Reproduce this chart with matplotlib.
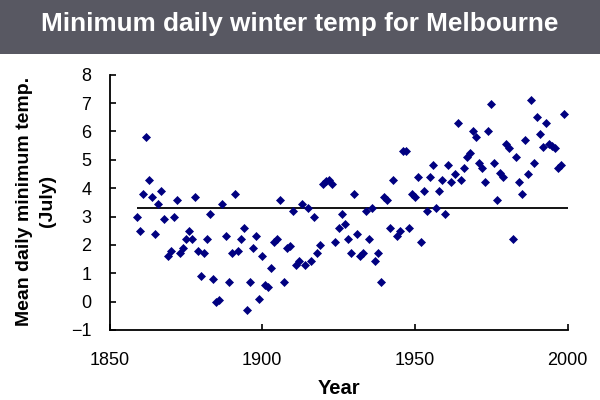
import matplotlib
matplotlib.use("Agg")
import matplotlib.pyplot as plt
from matplotlib.patches import Rectangle

# ---- data ----
first_year = 1859
temps = [
    3.0, 2.5, 3.8, 5.8, 4.3, 3.7, 2.4, 3.45, 3.9, 2.9,        # 1859-1868
    1.6, 1.8, 3.0, 3.6, 1.7, 1.9, 2.2, 2.5, 2.2, 3.7,          # 1869-1878
    1.8, 0.9, 1.7, 2.2, 3.1, 0.8, 0.0, 0.05, 3.45, 2.3,        # 1879-1888
    0.7, 1.7, 3.8, 1.8, 2.2, 2.6, -0.3, 0.7, 1.9, 2.3,         # 1889-1898
    0.1, 1.6, 0.6, 0.5, 1.2, 2.1, 2.2, 3.6, 0.7, 1.9,          # 1899-1908
    1.95, 3.2, 1.3, 1.45, 3.45, 1.3, 3.3, 1.45, 3.0, 1.7,      # 1909-1918
    2.0, 4.15, 4.25, 4.3, 4.15, 2.1, 2.6, 3.1, 2.75, 2.2,      # 1919-1928
    1.7, 3.8, 2.4, 1.6, 1.7, 3.2, 2.2, 3.3, 1.45, 1.7,         # 1929-1938
    0.7, 3.7, 3.6, 2.6, 4.3, 2.3, 2.5, 5.3, 5.3, 2.6,          # 1939-1948
    3.8, 3.7, 4.4, 2.1, 3.9, 3.2, 4.4, 4.8, 3.3, 3.9,          # 1949-1958
    4.3, 3.1, 4.8, 4.2, 4.5, 6.3, 4.3, 4.7, 5.1, 5.25,         # 1959-1968
    6.0, 5.8, 4.9, 4.7, 4.2, 6.0, 6.95, 4.9, 3.6, 4.55,        # 1969-1978
    4.4, 5.55, 5.4, 2.2, 5.1, 4.2, 3.8, 5.7, 4.5, 7.1,         # 1979-1988
    4.9, 6.5, 5.9, 5.45, 6.3, 5.55, 5.5, 5.4, 4.7, 4.8,        # 1989-1998
    6.6,                                                       # 1999
]
years = list(range(first_year, first_year + len(temps)))
mean_temp = 3.29
mean_line_end = 2000

x_ticks = [1850, 1900, 1950, 2000]
y_ticks = list(range(-1, 9))

title = "Minimum daily winter temp for Melbourne"
x_label = "Year"
y_label = "Mean daily minimum temp.\n(July)"

# ---- figure ----
plt.rcParams['font.family'] = ['Liberation Sans', 'DejaVu Sans']
fig = plt.figure(figsize=(6, 4), dpi=100)
fig.patch.set_facecolor('white')

# title banner
banner_h = 54 / 400
fig.patches.append(Rectangle((0, 1 - banner_h), 1, banner_h, transform=fig.transFigure,
                             facecolor='#585862', edgecolor='none', zorder=0))
fig.text(0.5, 1 - 24 / 400, title, color='white', fontsize=18.8, fontweight='bold',
         ha='center', va='center')

ax = fig.add_axes([109.5 / 600, 1 - 330 / 400, (567.5 - 109.5) / 600, (330 - 74.7) / 400])
ax.plot(years, temps, linestyle='none', marker='D', markersize=3.6,
        markerfacecolor='#000080', markeredgecolor='#000080', markeredgewidth=0.5,
        zorder=3, clip_on=False)
ax.hlines(mean_temp, years[0], mean_line_end, colors='black', linewidth=1.3, zorder=2)

ax.set_xlim(x_ticks[0], x_ticks[-1])
ax.set_ylim(y_ticks[0], y_ticks[-1])
ax.set_xticks(x_ticks)
ax.set_yticks(y_ticks)
for s in ['top', 'right']:
    ax.spines[s].set_visible(False)
for s in ['left', 'bottom']:
    ax.spines[s].set_linewidth(1.3)
ax.tick_params(axis='both', direction='in', length=4.5, width=1.2, labelsize=13)
ax.tick_params(axis='x', pad=15.5)
ax.tick_params(axis='y', pad=13)

fig.text(338.5 / 600, 1 - 389 / 400, x_label, fontsize=14.5, fontweight='bold',
         ha='center', va='center')
fig.text(36 / 600, 1 - 201 / 400, y_label, fontsize=14, fontweight='bold',
         rotation=90, ha='center', va='center', multialignment='center', linespacing=1.45)

fig.savefig('out.png', dpi=100)
